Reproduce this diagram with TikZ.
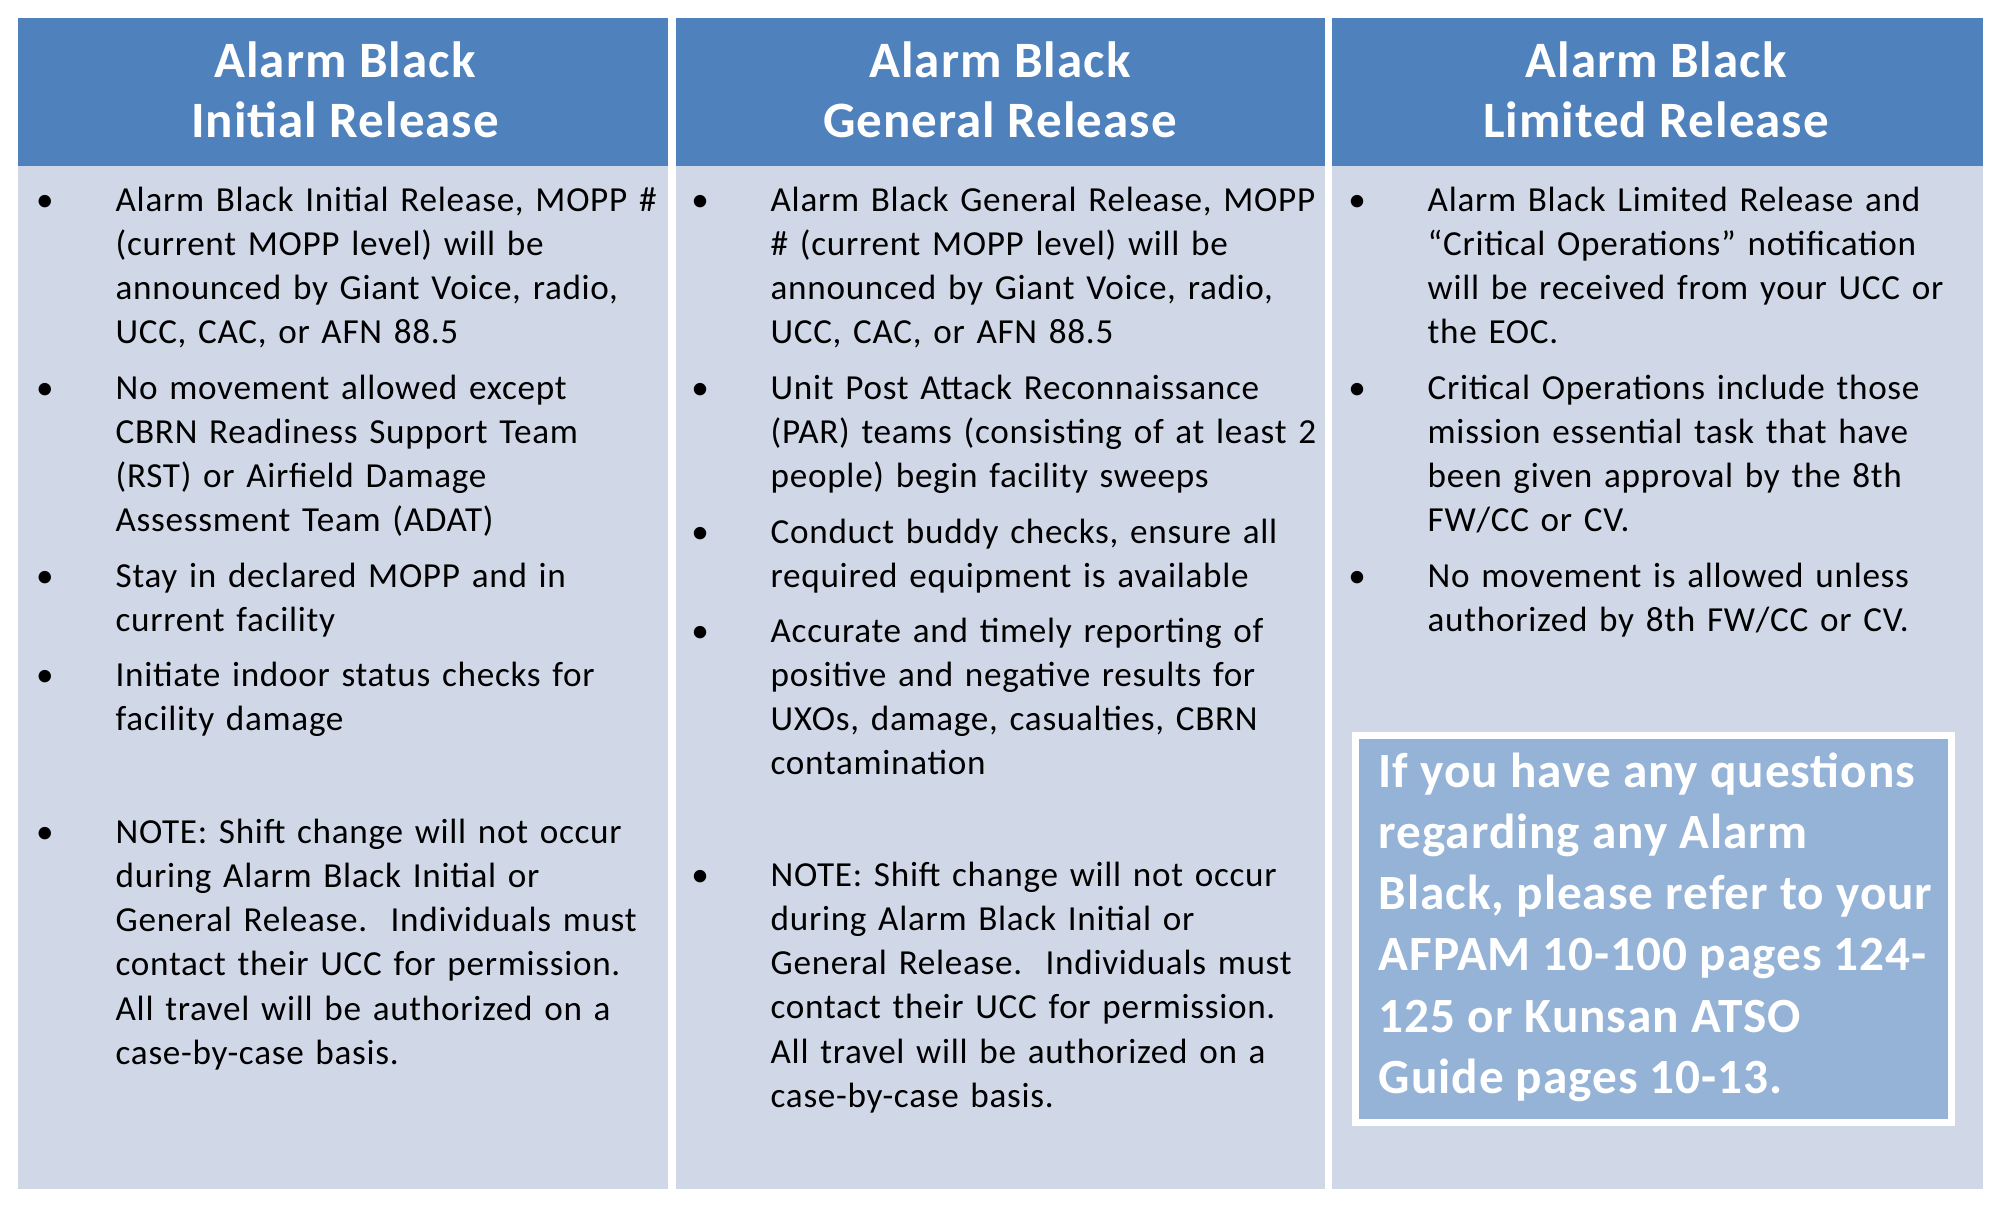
\documentclass[tikz,border=0pt]{standalone}
\usepackage{fontspec}
\setmainfont{Carlito}[LetterSpace=2]
\definecolor{hdr}{HTML}{4F81BD}
\definecolor{bdy}{HTML}{D0D8E8}
\definecolor{note}{HTML}{95B3D7}
\begin{document}
\begin{tikzpicture}[x=0.01cm,y=-0.01cm,
  item/.style={anchor=base west,text width=5.9cm,align=left,inner sep=0pt,font=\fontsize{10pt}{12.6pt}\selectfont},
  bul/.style={anchor=base,inner sep=0pt,font=\fontsize{10pt}{12.6pt}\selectfont},
  head/.style={text=white,font=\bfseries\fontsize{14.5pt}{17pt}\selectfont,align=center}]
\useasboundingbox (0,0) rectangle (2000,1205);
\fill[white] (0,0) rectangle (2000,1205);
\fill[bdy] (18,166) rectangle (1983,1189);
\fill[hdr] (18,18) rectangle (1983,166);
\draw[white,line width=2pt] (672,18) -- (672,1189) (1328,18) -- (1328,1189);
\node[head] (h1) at (345,90) {Alarm Black\\Initial Release};
\node[head] (h2) at (1000,90) {Alarm Black\\General Release};
\node[head] (h3) at (1656,90) {Alarm Black\\Limited Release};
% column 1
\foreach \y/\n in {211/a,399/b,587/c,686/d,843/e}{\node[bul] (b1\n) at (45,\y) {•};}
\node[item] (a1) at (115,211) {Alarm Black Initial Release, MOPP \#\\(current MOPP level) will be\\announced by Giant Voice, radio,\\UCC, CAC, or AFN 88.5};
\node[item] (a2) at (115,399) {No movement allowed except\\CBRN Readiness Support Team\\(RST) or Airfield Damage\\Assessment Team (ADAT)};
\node[item] (a3) at (115,587) {Stay in declared MOPP and in\\current facility};
\node[item] (a4) at (115,686) {Initiate indoor status checks for\\facility damage};
\node[item] (a5) at (115,843) {NOTE: Shift change will not occur\\during Alarm Black Initial or\\General Release.\ \ Individuals must\\contact their UCC for permission.\\All travel will be authorized on a\\case-by-case basis.};
% column 2
\foreach \y/\n in {211/a,399/b,543/c,642/d,886/e}{\node[bul] (b2\n) at (700,\y) {•};}
\node[item] (g1) at (770,211) {Alarm Black General Release, MOPP\\\# (current MOPP level) will be\\announced by Giant Voice, radio,\\UCC, CAC, or AFN 88.5};
\node[item] (g2) at (770,399) {Unit Post Attack Reconnaissance\\(PAR) teams (consisting of at least 2\\people) begin facility sweeps};
\node[item] (g3) at (770,543) {Conduct buddy checks, ensure all\\required equipment is available};
\node[item] (g4) at (770,642) {Accurate and timely reporting of\\positive and negative results for\\UXOs, damage, casualties, CBRN\\contamination};
\node[item] (g5) at (770,886) {NOTE: Shift change will not occur\\during Alarm Black Initial or\\General Release.\ \ Individuals must\\contact their UCC for permission.\\All travel will be authorized on a\\case-by-case basis.};
% column 3
\foreach \y/\n in {211/a,399/b,587/c}{\node[bul] (b3\n) at (1357,\y) {•};}
\node[item] (l1) at (1427,211) {Alarm Black Limited Release and\\“Critical Operations” notification\\will be received from your UCC or\\the EOC.};
\node[item] (l2) at (1427,399) {Critical Operations include those\\mission essential task that have\\been given approval by the 8th\\FW/CC or CV.};
\node[item] (l3) at (1427,587) {No movement is allowed unless\\authorized by 8th FW/CC or CV.};
\fill[note,draw=white,line width=2pt] (1355,735) rectangle (1951,1122);
\node[anchor=north west,align=left,inner sep=0pt,text=white,font=\bfseries\fontsize{14pt}{17.4pt}\selectfont] (q) at (1378,752) {If you have any questions\\regarding any Alarm\\Black, please refer to your\\AFPAM 10-100 pages 124-\\125 or Kunsan ATSO\\Guide pages 10-13.};
\end{tikzpicture}
\end{document}
